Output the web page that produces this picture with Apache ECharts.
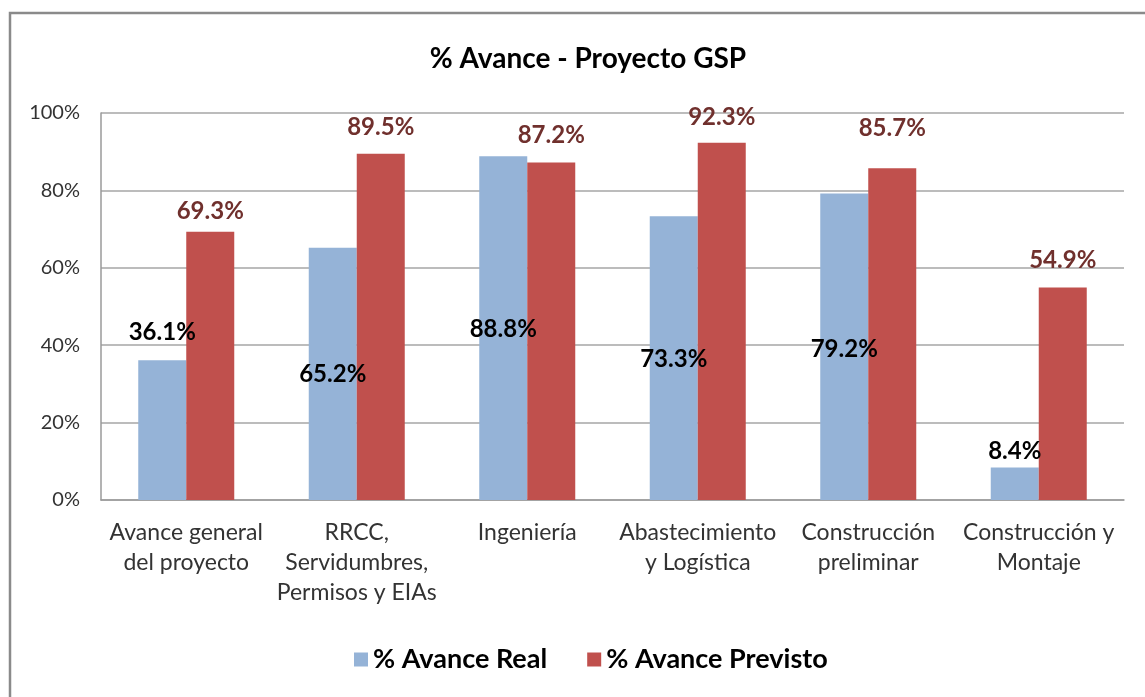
<!DOCTYPE html>
<html>
<head>
<meta charset="utf-8">
<title>% Avance - Proyecto GSP</title>
<script src="https://cdn.jsdelivr.net/npm/echarts@6/dist/echarts.min.js"></script>
<style>
  html, body { margin: 0; padding: 0; background: #fff; }
  #chart { width: 1145px; height: 697px; }
</style>
</head>
<body>
<div id="chart"></div>
<script>
  var categories = [
    'Avance general\ndel proyecto',
    'RRCC,\nServidumbres,\nPermisos y EIAs',
    'Ingeniería',
    'Abastecimiento\ny Logística',
    'Construcción\npreliminar',
    'Construcción y\nMontaje'
  ];
  var avanceReal = [36.1, 65.2, 88.8, 73.3, 79.2, 8.4];
  var avancePrevisto = [69.3, 89.5, 87.2, 92.3, 85.7, 54.9];
  var yTicks = [0, 20, 40, 60, 80, 100];

  // the labels in the original were dragged around by hand, so nudge each one
  var realLabelShift = [-19, 136, 182, 152, 165, -7];
  var previstoLabelShift = [-12, -17, -18, -17, -31, -18];

  var font = 'Lato, "Open Sans", sans-serif';

  function withLabels(values, shifts) {
    return values.map(function(v, i) {
      return { value: v, label: { offset: [0, shifts[i]] } };
    });
  }

  var myChart = echarts.init(document.getElementById('chart'));
  var option = {
    backgroundColor: '#fff',
    animation: false,
    title: {
      text: '% Avance - Proyecto GSP',
      left: 583,
      top: 40,
      textAlign: 'center',
      textStyle: { fontFamily: font, fontSize: 28, fontWeight: 'bold', color: '#000' }
    },
    legend: {
      data: ['% Avance Real', '% Avance Previsto'],
      left: 349,
      top: 641,
      icon: 'rect',
      itemWidth: 14,
      itemHeight: 14,
      itemGap: 40,
      textStyle: { fontFamily: font, fontSize: 27, fontWeight: 'bold', color: '#000' }
    },
    graphic: [{
      type: 'rect',
      shape: { x: 10, y: 13, width: 1160, height: 720 },
      style: { fill: 'none', stroke: '#8a8a8a', lineWidth: 2.5 },
      silent: true
    }],
    grid: { left: 101, right: 21, top: 113, bottom: 197 },
    xAxis: {
      type: 'category',
      data: categories,
      axisTick: { show: false },
      axisLine: { lineStyle: { color: '#9a9a9a', width: 1.5 } },
      axisLabel: {
        interval: 0,
        margin: 18,
        fontFamily: font,
        fontSize: 23,
        lineHeight: 30,
        color: '#333'
      }
    },
    yAxis: {
      type: 'value',
      min: yTicks[0],
      max: yTicks[yTicks.length - 1],
      interval: yTicks[1] - yTicks[0],
      axisLine: { show: true, lineStyle: { color: '#9a9a9a', width: 1.5 } },
      axisTick: { show: false },
      splitLine: { lineStyle: { color: '#a6a6a6', width: 1.5 } },
      axisLabel: {
        margin: 21,
        fontFamily: font,
        fontSize: 20,
        color: '#333',
        formatter: '{value}%'
      }
    },
    series: [
      {
        name: '% Avance Real',
        type: 'bar',
        barWidth: 48,
        barGap: '0%',
        itemStyle: { color: '#95b3d7' },
        label: {
          show: true,
          position: 'top',
          distance: 0,
          lineHeight: 18,
          fontFamily: font,
          fontSize: 24,
          fontWeight: 'bold',
          color: '#000',
          formatter: function(p) { return p.value.toFixed(1) + '%'; }
        },
        data: withLabels(avanceReal, realLabelShift)
      },
      {
        name: '% Avance Previsto',
        type: 'bar',
        barWidth: 48,
        barGap: '0%',
        itemStyle: { color: '#c0504d' },
        label: {
          show: true,
          position: 'top',
          distance: 0,
          lineHeight: 18,
          fontFamily: font,
          fontSize: 24,
          fontWeight: 'bold',
          color: '#70302d',
          formatter: function(p) { return p.value.toFixed(1) + '%'; }
        },
        data: withLabels(avancePrevisto, previstoLabelShift)
      }
    ]
  };
  myChart.setOption(option);
  window.addEventListener('resize', function() {
    myChart.resize();
  });
</script>
</body>
</html>
